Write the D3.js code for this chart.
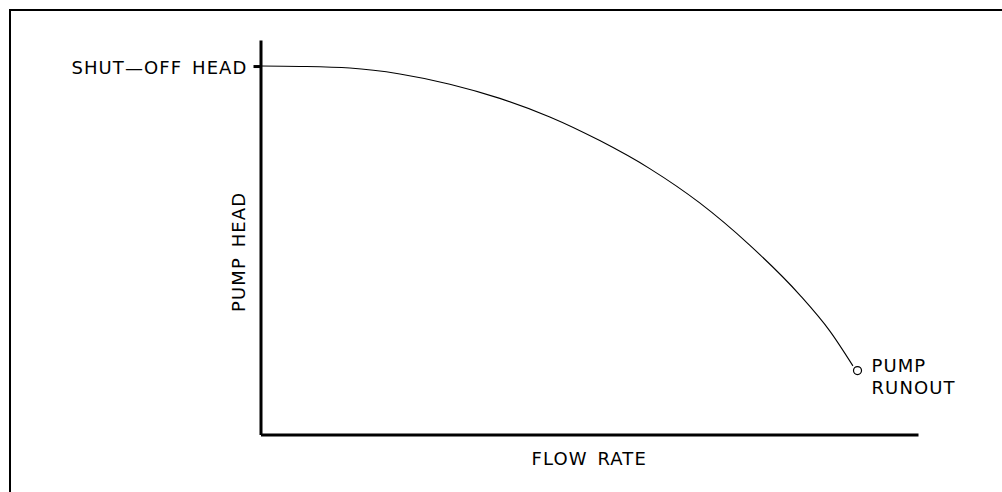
<!DOCTYPE html>
<html>
<head>
<meta charset="utf-8">
<script src="https://cdn.jsdelivr.net/npm/d3@7"></script>
<style>
  body { margin: 0; background: #fff; }
  text { font-family: "DejaVu Sans", sans-serif; fill: #000; }
</style>
</head>
<body>
<div class="canvas"></div>
<script>
// pump curve (flow and head in % of full scale)
const flow = [0, 6.0, 13.6, 21.2, 28.8, 36.4, 44.0, 51.6, 59.2, 66.8, 74.4, 82.0, 86.6, 90.1];
const head = [93.4, 93.3, 92.9, 91.4, 88.8, 85.2, 80.5, 74.5, 67.4, 58.7, 48.0, 35.4, 26.2, 17.4];
const runout = [90.8, 16.2];
const shutoffHead = [93.4];
const yTickLabels = ["SHUT\u2014OFF HEAD"];
const axisTitles = ["FLOW RATE", "PUMP HEAD"];
const runoutLabel = ["PUMP", "RUNOUT"];

const dims = { width: 1002, height: 492 };
const fontSize = '18px';
const spacing = '1.1px';

const svg = d3.select('.canvas')
    .append('svg')
    .attr('width', dims.width)
    .attr('height', dims.height);

// sheet border (top + left only)
svg.append('path')
    .attr('d', 'M10,492V10H1002')
    .attr('fill', 'none')
    .attr('stroke', '#000')
    .attr('stroke-width', 2);

const x = d3.scaleLinear().domain([0, 100]).range([260.5, 918]);
const y = d3.scaleLinear().domain([0, 100]).range([434.5, 40]);

const xAxis = d3.axisBottom(x).tickValues([]).tickSizeOuter(0);
const yAxis = d3.axisLeft(y)
    .tickValues(shutoffHead)
    .tickFormat((d, i) => yTickLabels[i])
    .tickSize(7)
    .tickPadding(6)
    .tickSizeOuter(0);

const gx = svg.append('g')
    .attr('transform', `translate(0,${y(0)})`)
    .call(xAxis);
const gy = svg.append('g')
    .attr('transform', `translate(${x(0)},0)`)
    .call(yAxis);

[gx, gy].forEach(g => {
    g.select('.domain').attr('stroke-width', 3);
    g.selectAll('.tick line').attr('stroke-width', 3);
    g.selectAll('text')
      .style('font-size', fontSize)
      .style('letter-spacing', spacing)
      .style('word-spacing', '3px')
      .style('font-family', '"DejaVu Sans", sans-serif');
});
gy.selectAll('.tick text').attr('dy', '0.4em');

// curve
const pts = flow.map((f, i) => [f, head[i]]);
const line = d3.line()
    .x(d => x(d[0]))
    .y(d => y(d[1]))
    .curve(d3.curveMonotoneX);

svg.append('path')
    .datum(pts)
    .attr('d', line)
    .attr('fill', 'none')
    .attr('stroke', '#000')
    .attr('stroke-width', 1.1);

svg.append('circle')
    .attr('cx', x(runout[0]))
    .attr('cy', y(runout[1]))
    .attr('r', 4)
    .attr('fill', 'none')
    .attr('stroke', '#000')
    .attr('stroke-width', 1.2);

// labels
const label = sel => sel
    .style('font-size', fontSize)
    .style('letter-spacing', spacing)
    .style('word-spacing', '3px');

svg.append('text')
    .attr('x', (x(0) + x(100)) / 2)
    .attr('y', 465)
    .attr('text-anchor', 'middle')
    .call(label)
    .text(axisTitles[0]);

svg.append('text')
    .attr('transform', `translate(245,${y(46.3)}) rotate(-90)`)
    .attr('text-anchor', 'middle')
    .call(label)
    .text(axisTitles[1]);

svg.append('text')
    .attr('x', x(runout[0]) + 14)
    .attr('y', y(runout[1]) + 1)
    .call(label)
    .selectAll('tspan')
    .data(runoutLabel)
    .join('tspan')
      .attr('x', x(runout[0]) + 14)
      .attr('dy', (d, i) => i ? 22 : 0)
      .text(d => d);
</script>
</body>
</html>
